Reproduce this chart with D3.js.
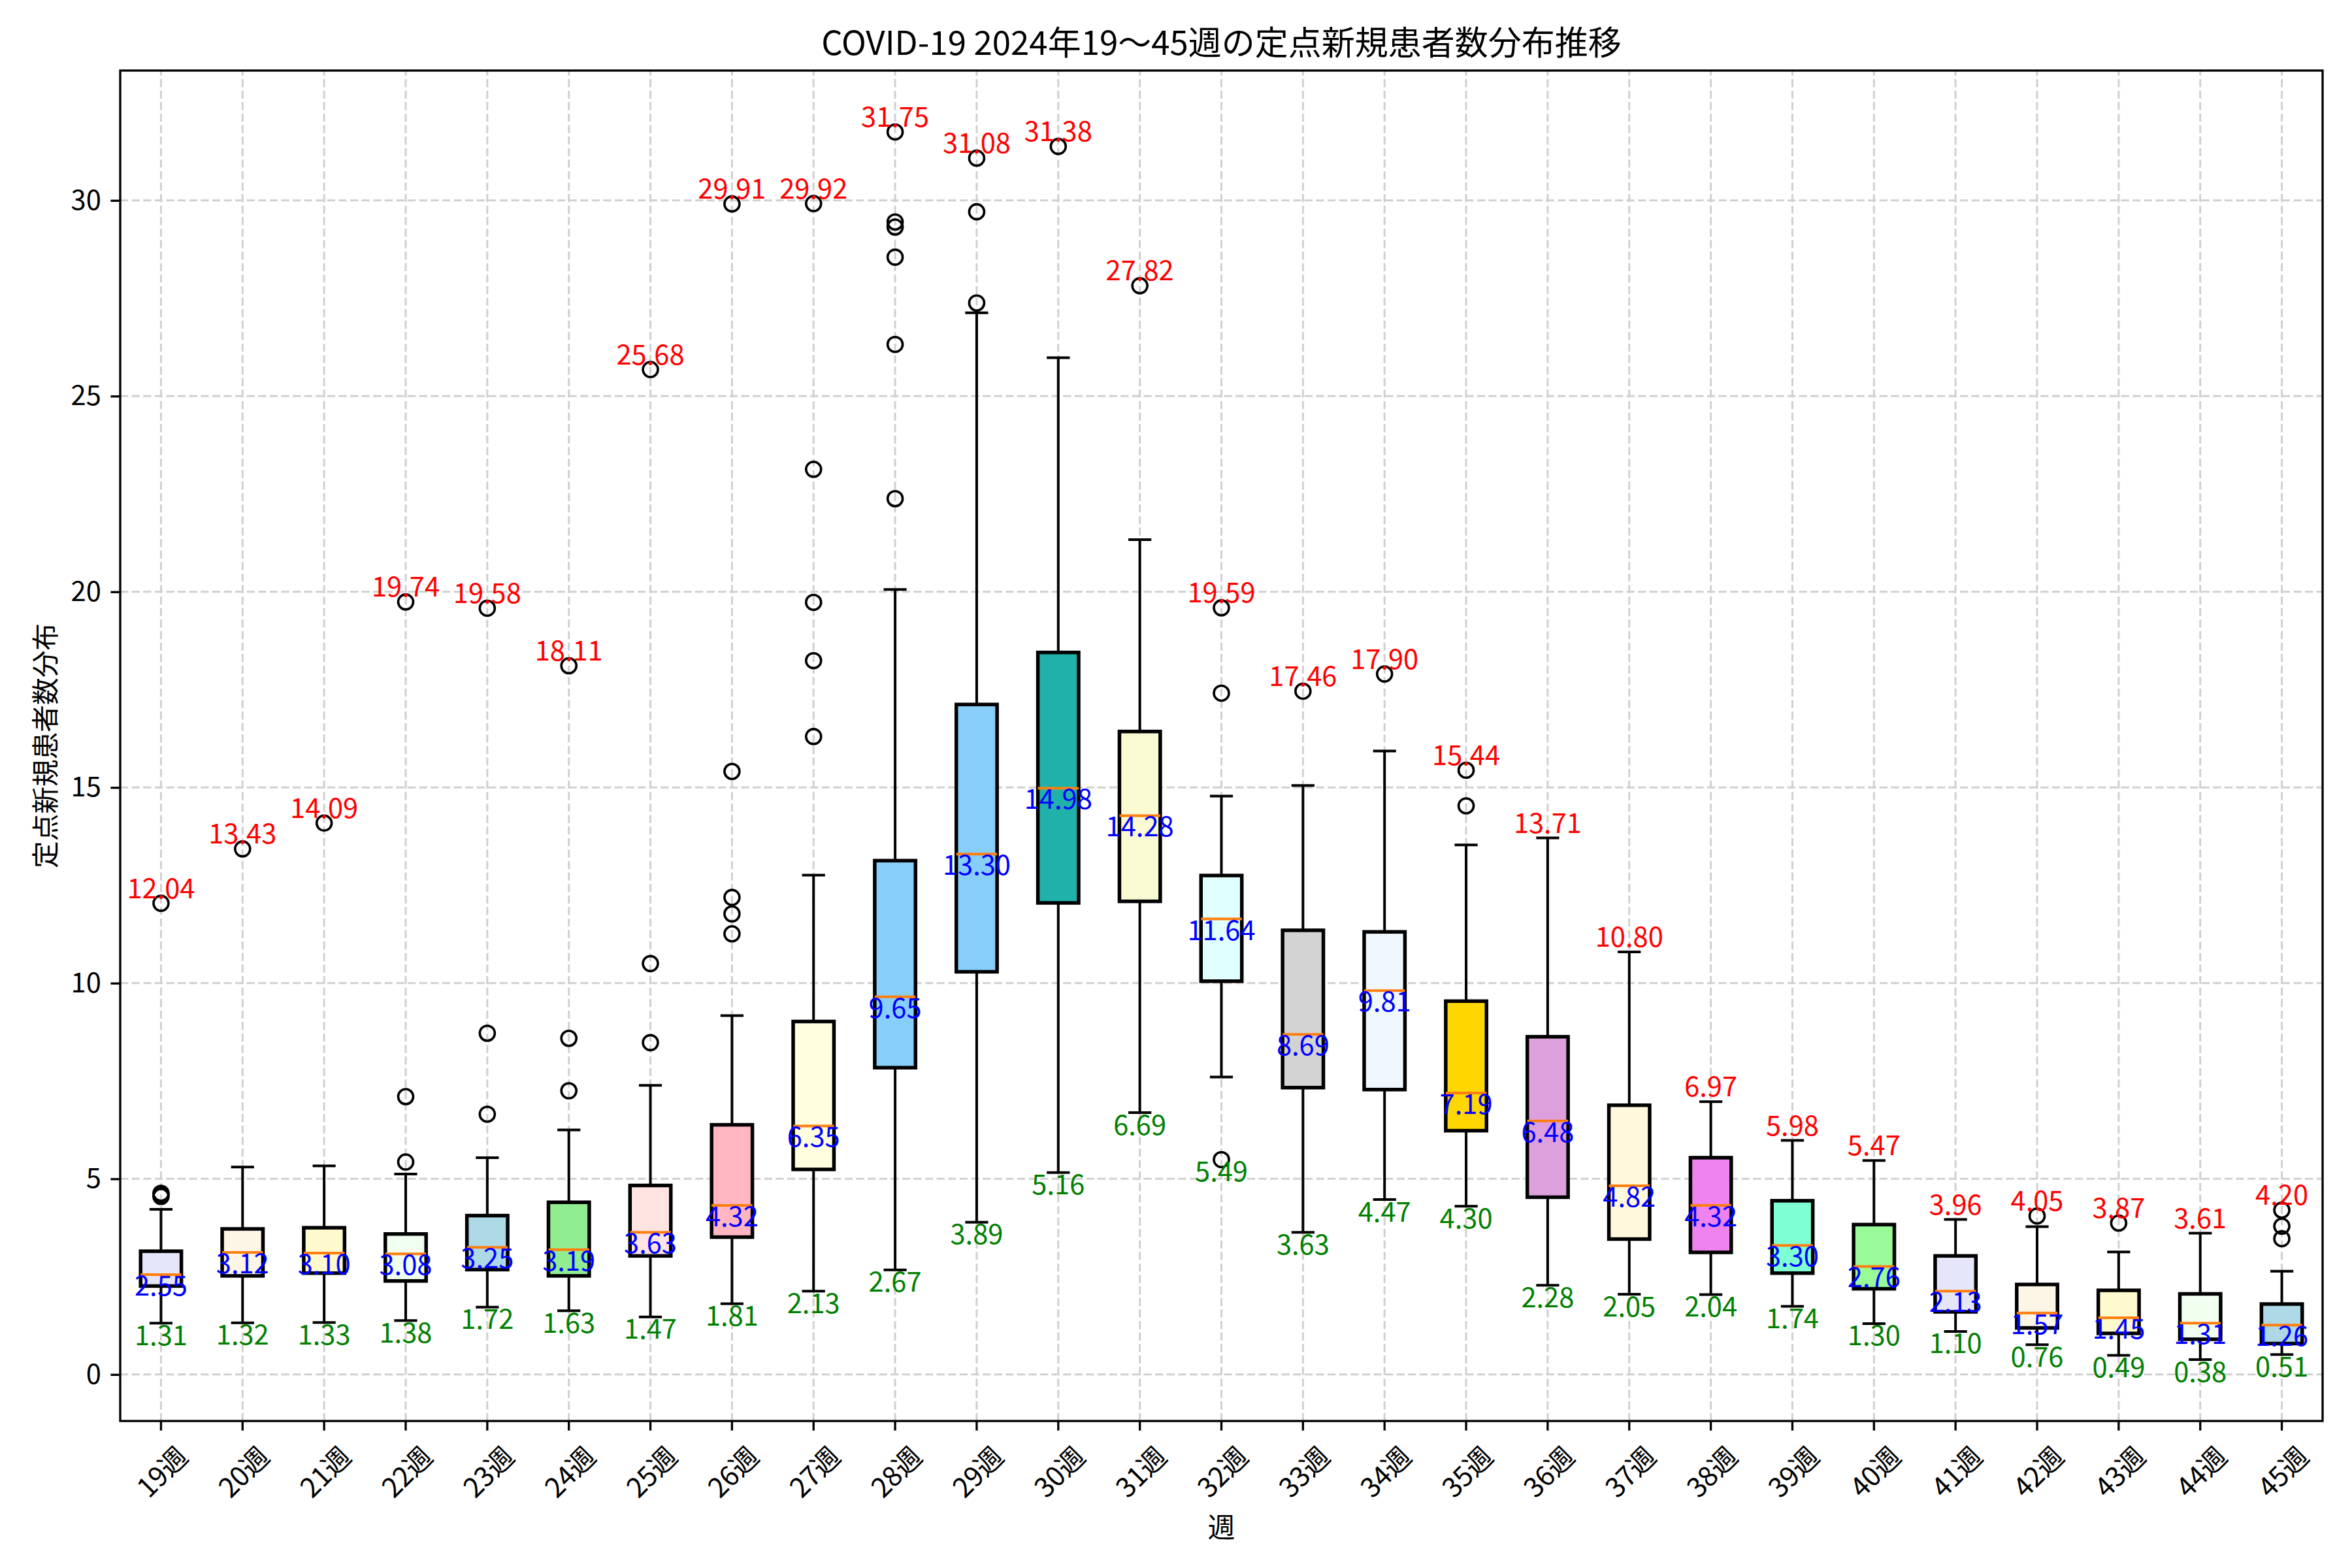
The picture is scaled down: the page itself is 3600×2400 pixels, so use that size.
<!DOCTYPE html>
<html><head><meta charset="utf-8">
<script src="https://cdn.jsdelivr.net/npm/d3@7"></script>
<style>body{margin:0;background:#fff}</style>
</head><body><svg id="chart" width="3600" height="2400"></svg>
<script>
const weeks = ["19週","20週","21週","22週","23週","24週","25週","26週","27週","28週","29週","30週","31週","32週","33週","34週","35週","36週","37週","38週","39週","40週","41週","42週","43週","44週","45週"];
const whiskerLow  = [1.31,1.32,1.33,1.38,1.72,1.63,1.47,1.81,2.13,2.67,3.89,5.16,6.69,7.60,3.63,4.47,4.30,2.28,2.05,2.04,1.74,1.30,1.10,0.76,0.49,0.38,0.51];
const q1          = [2.26,2.52,2.59,2.39,2.68,2.52,3.03,3.51,5.24,7.84,10.29,12.05,12.09,10.05,7.33,7.28,6.23,4.53,3.46,3.12,2.59,2.19,1.60,1.19,1.05,0.90,0.79];
const median      = [2.55,3.12,3.10,3.08,3.25,3.19,3.63,4.32,6.35,9.65,13.30,14.98,14.28,11.64,8.69,9.81,7.19,6.48,4.82,4.32,3.30,2.76,2.13,1.57,1.45,1.31,1.26];
const q3          = [3.15,3.72,3.75,3.59,4.06,4.40,4.83,6.38,9.02,13.13,17.12,18.45,16.43,12.75,11.35,11.31,9.54,8.63,6.88,5.54,4.44,3.83,3.03,2.30,2.15,2.06,1.80];
const whiskerHigh = [4.22,5.30,5.33,5.12,5.54,6.25,7.39,9.17,12.76,20.06,27.13,25.98,21.33,14.78,15.05,15.93,13.53,13.71,10.80,6.97,5.98,5.47,3.96,3.78,3.13,3.61,2.64];
const outliers = [
  [4.55,4.59,4.63,12.04],
  [13.43],
  [14.09],
  [5.43,7.10,19.74],
  [6.65,8.72,19.58],
  [7.25,8.59,18.11],
  [8.48,10.50,25.68],
  [11.26,11.77,12.19,15.41,29.91],
  [16.30,18.24,19.73,23.13,29.92],
  [22.38,26.32,28.55,29.32,29.45,31.75],
  [27.38,29.71,31.08],
  [31.38],
  [27.82],
  [5.49,17.41,19.59],
  [17.46],
  [17.90],
  [14.53,15.44],
  [], [], [], [], [], [],
  [4.05],
  [3.87],
  [],
  [3.47,3.79,4.20]
];
const boxColors = ["lavender","oldlace","lemonchiffon","honeydew","lightblue","lightgreen","mistyrose","lightpink","lightyellow","lightskyblue","lightskyblue","lightseagreen","lightgoldenrodyellow","lightcyan","lightgray","aliceblue","gold","plum","cornsilk","violet","aquamarine","palegreen","lavender","oldlace","lemonchiffon","honeydew","lightblue"];
const yTicks = [0,5,10,15,20,25,30];
const titleText = "COVID-19 2024年19～45週の定点新規患者数分布推移";
const xLabel = "週";
const yLabel = "定点新規患者数分布";

const FONT = '"Noto Sans CJK JP","Noto Sans",sans-serif';
const W=3600,H=2400;
const m={left:184,right:3555,top:108,bottom:2175};
const svg=d3.select("#chart");
svg.append("rect").attr("width",W).attr("height",H).attr("fill","#fff");

const allVals = weeks.flatMap((w,i)=>[whiskerLow[i],whiskerHigh[i],...outliers[i]]);
const dmin=d3.min(allVals), dmax=d3.max(allVals), pad=(dmax-dmin)*0.05;
const y=d3.scaleLinear().domain([dmin-pad,dmax+pad]).range([m.bottom,m.top]);
const x=d3.scaleBand().domain(weeks).range([m.left,m.right]).paddingInner(0).paddingOuter(0);
const bw=x.bandwidth();
const cx=w=>x(w)+bw/2;

// grid
const grid=svg.append("g").attr("stroke","#d0d0d0").attr("stroke-width",3).attr("stroke-dasharray","12.3,5.3");
grid.selectAll("line.h").data(yTicks).join("line").attr("class","h")
  .attr("x1",m.left).attr("x2",m.right).attr("y1",d=>y(d)).attr("y2",d=>y(d));
grid.selectAll("line.v").data(weeks).join("line").attr("class","v")
  .attr("x1",d=>cx(d)).attr("x2",d=>cx(d)).attr("y1",m.bottom).attr("y2",m.top);

// boxes
const boxW = bw*0.5, capW = bw*0.25;
const g = svg.append("g");
weeks.forEach((w,i)=>{
  const c=cx(w);
  const bg=g.append("g");
  bg.append("line").attr("x1",c).attr("x2",c).attr("y1",y(q1[i])).attr("y2",y(whiskerLow[i])).attr("stroke","#000").attr("stroke-width",4);
  bg.append("line").attr("x1",c).attr("x2",c).attr("y1",y(q3[i])).attr("y2",y(whiskerHigh[i])).attr("stroke","#000").attr("stroke-width",4);
  [whiskerLow[i],whiskerHigh[i]].forEach(v=>{
    bg.append("line").attr("x1",c-capW/2).attr("x2",c+capW/2).attr("y1",y(v)).attr("y2",y(v))
      .attr("stroke","#000").attr("stroke-width",4).attr("stroke-linecap","square");
  });
  bg.append("rect").attr("x",c-boxW/2).attr("width",boxW).attr("y",y(q3[i])).attr("height",y(q1[i])-y(q3[i]))
    .attr("fill",boxColors[i]).attr("stroke","#000").attr("stroke-width",5.5);
  bg.append("line").attr("x1",c-boxW/2).attr("x2",c+boxW/2).attr("y1",y(median[i])).attr("y2",y(median[i]))
    .attr("stroke","#ff7f0e").attr("stroke-width",4);
  bg.selectAll("circle").data(outliers[i]).join("circle").attr("cx",c).attr("cy",d=>y(d)).attr("r",11.5)
    .attr("fill","none").attr("stroke","#000").attr("stroke-width",3.6);
});

// annotations
const ann = svg.append("g").attr("font-family",FONT).attr("font-size",41.67).attr("text-anchor","middle");
weeks.forEach((w,i)=>{
  const c=cx(w);
  const mx=d3.max([whiskerHigh[i],...outliers[i]]);
  const mn=d3.min([whiskerLow[i],...outliers[i]]);
  ann.append("text").attr("x",c).attr("y",y(mx)-8).attr("fill","red").text(mx.toFixed(2));
  ann.append("text").attr("x",c).attr("y",y(median[i])+32).attr("fill","blue").text(median[i].toFixed(2));
  ann.append("text").attr("x",c).attr("y",y(mn)+33.5).attr("fill","green").text(mn.toFixed(2));
});

// axes
const gy=svg.append("g").attr("transform",`translate(${m.left},0)`)
  .call(d3.axisLeft(y).tickValues(yTicks).tickSize(14.6).tickSizeOuter(0).tickPadding(14.6).tickFormat(d3.format("d")));
gy.select(".domain").remove();
gy.attr("font-family",FONT).attr("font-size",41.67);
gy.selectAll(".tick line").attr("stroke","#000").attr("stroke-width",3.33);
gy.selectAll(".tick text").attr("fill","#000");

const gx=svg.append("g").attr("transform",`translate(0,${m.bottom})`)
  .call(d3.axisBottom(x).tickSize(14.6).tickSizeOuter(0).tickPadding(14.6));
gx.select(".domain").remove();
gx.attr("font-family",FONT).attr("font-size",41.67);
gx.selectAll(".tick line").attr("stroke","#000").attr("stroke-width",3.33);
gx.selectAll(".tick text").attr("fill","#000").attr("y",0).attr("dy",0)
  .attr("text-anchor","middle").attr("dominant-baseline","central")
  .attr("transform","translate(0,76) rotate(-45)");

// frame
svg.append("rect").attr("x",m.left).attr("y",m.top).attr("width",m.right-m.left).attr("height",m.bottom-m.top)
  .attr("fill","none").attr("stroke","#000").attr("stroke-width",3.33);

// titles
svg.append("text").attr("x",(m.left+m.right)/2).attr("y",84).attr("text-anchor","middle")
  .attr("font-family",FONT).attr("font-size",51).attr("fill","#000").text(titleText);
svg.append("text").attr("x",(m.left+m.right)/2).attr("y",2335).attr("text-anchor","middle").attr("dominant-baseline","central")
  .attr("font-family",FONT).attr("font-size",41.67).attr("fill","#000").text(xLabel);
svg.append("text").attr("transform",`translate(67,${(m.top+m.bottom)/2}) rotate(-90)`).attr("text-anchor","middle").attr("dominant-baseline","central")
  .attr("font-family",FONT).attr("font-size",41.67).attr("fill","#000").text(yLabel);
</script></body></html>
